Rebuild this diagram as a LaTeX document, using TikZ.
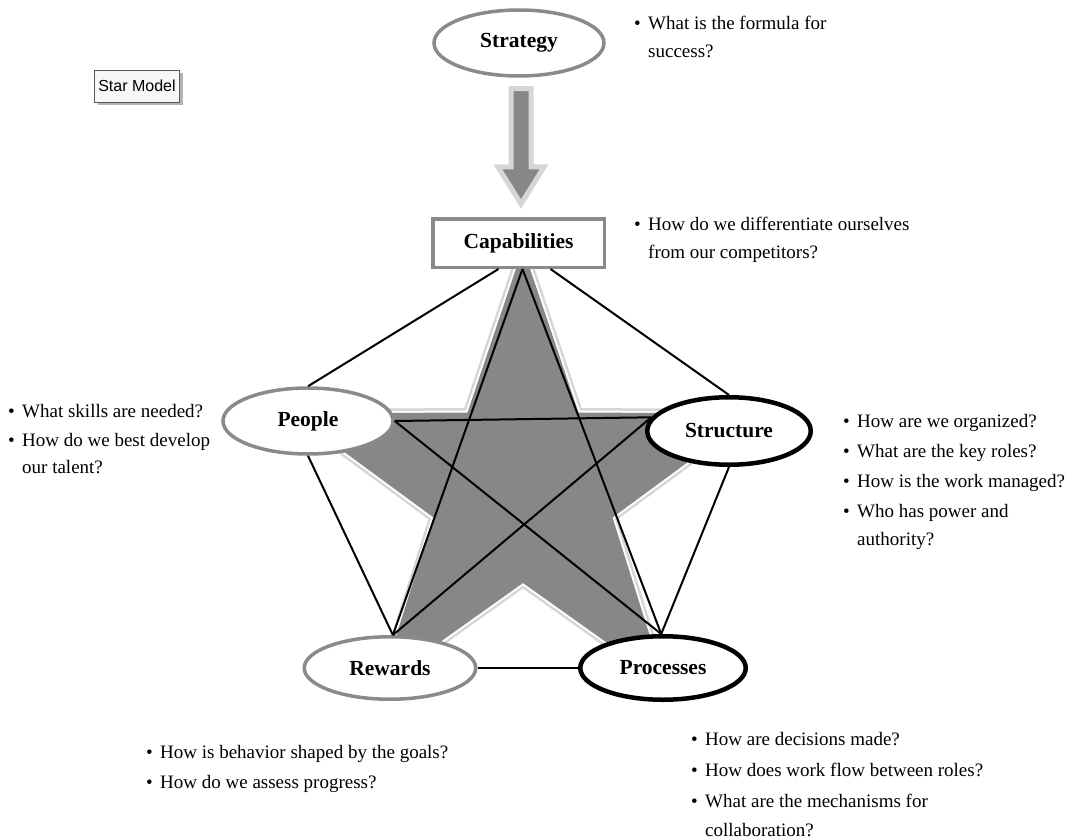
\documentclass[tikz,border=0pt]{standalone}
\usepackage{fontspec}
\setmainfont{Liberation Serif}
\newfontfamily\boxsans{Liberation Sans}
\usetikzlibrary{shapes.geometric,shadows,calc}

\definecolor{rimgray}{HTML}{8A8A8A}
\definecolor{starfill}{HTML}{878787}
\definecolor{bevel}{HTML}{D6D6D6}

% bullet mark followed by the item text
\newcommand{\bitem}{\makebox[14pt][l]{\textbullet}}

\begin{document}
\begin{tikzpicture}[x=1pt,y=-1pt,
  ring/.style={ellipse, fill=white, inner sep=0pt,
    font=\fontsize{21.5}{24}\selectfont\bfseries},
  softring/.style={ring, draw=rimgray, line width=3.5pt},
  boldring/.style={ring, draw=black, line width=4.5pt},
  link/.style={draw=black, line width=2pt},
  note/.style={anchor=base west, inner sep=0pt,
    font=\fontsize{19}{22}\selectfont},
  starpath/.style={insert path={
    (523,248) -- (467.5,412.5) -- (292,413.5) -- (433.5,517.5) --
    (381,684) -- (523,583) -- (665,684) -- (612.5,517.5) --
    (754,413.5) -- (578.5,412.5) -- cycle}},
]
\useasboundingbox (0,0) rectangle (1074,840);
\clip (0,0) rectangle (1074,840);

% shaded five-pointed star behind the model
\draw[bevel, line width=9pt, line join=miter, starpath];
\draw[white, line width=4pt, line join=miter, starpath];
\fill[starfill, starpath];

% the six elements
\node[softring, minimum width=170pt, minimum height=66pt] (Strategy) at (519,43) {Strategy};
\node[draw=rimgray, line width=3.5pt, fill=white, inner sep=0pt,
      minimum width=171.5pt, minimum height=48.5pt,
      font=\fontsize{21.5}{24}\selectfont\bfseries] (Capabilities) at (518.5,243) {Capabilities};
\node[softring, minimum width=170pt, minimum height=66pt] (People) at (308,421) {People};
\node[boldring, minimum width=163.5pt, minimum height=67.5pt] (Structure) at (729,431) {Structure};
\node[softring, minimum width=171.5pt, minimum height=62.5pt] (Rewards) at (390,668) {Rewards};
\node[boldring, minimum width=165.5pt, minimum height=63.5pt] (Processes) at (663,668) {Processes};

% block arrow from strategy down to capabilities
\coordinate (shafttop) at ($(Strategy.south)+(2,11)$);
\coordinate (arrowtip) at ($(Capabilities.north)+(2.5,-13)$);
\filldraw[fill=starfill, draw=bevel, line width=5pt, line join=miter]
  ($(shafttop)+(-10,0)$) -- ($(shafttop)+(10,0)$) --
  ($(arrowtip)+(10,-37)$) -- ($(arrowtip)+(23,-37)$) -- (arrowtip) --
  ($(arrowtip)+(-23,-37)$) -- ($(arrowtip)+(-10,-37)$) -- cycle;

% outer pentagon
\coordinate (capL) at ($(Capabilities.south)+(-20,0)$);
\coordinate (capR) at ($(Capabilities.south)+(32,0)$);
\coordinate (apex) at ($(Capabilities.south)+(4,0)$);
\draw[link] (capL) -- (People.north);
\draw[link] (capR) -- (Structure.north);
\draw[link] (People.south) -- (Rewards.85);
\draw[link] (Structure.south) -- (Processes.93);
\draw[link] (Rewards.east) -- (Processes.west);

% inner pentagram
\draw[link] (apex) -- (Rewards.85);
\draw[link] (apex) -- (Processes.93);
\draw[link] (People.east) -- (Structure.170);
\draw[link] (People.east) -- (Processes.93);
\draw[link] (Structure.170) -- (Rewards.85);

% caption box
\node[draw=black!65, line width=0.8pt, fill=black!3, inner sep=2pt,
      minimum width=85pt, minimum height=32pt,
      drop shadow={shadow xshift=3pt, shadow yshift=-3pt, fill=black!50, opacity=.6},
      font=\boxsans\fontsize{16}{18}\selectfont] (title) at (137,86) {Star Model};

% guiding questions
\node[note] (q1a) at (634,30) {\bitem What is the formula for};
\node[note] (q1b) at (648,58) {success?};

\node[note] (q2a) at (634,230) {\bitem How do we differentiate ourselves};
\node[note] (q2b) at (648,258) {from our competitors?};

\node[note] (q3a) at (8,417) {\bitem What skills are needed?};
\node[note] (q3b) at (8,446) {\bitem How do we best develop};
\node[note] (q3c) at (22,473) {our talent?};

\node[note] (q4a) at (843,427) {\bitem How are we organized?};
\node[note] (q4b) at (843,457) {\bitem What are the key roles?};
\node[note] (q4c) at (843,487) {\bitem How is the work managed?};
\node[note] (q4d) at (843,517) {\bitem Who has power and};
\node[note] (q4e) at (857,545) {authority?};

\node[note] (q5a) at (146,758) {\bitem How is behavior shaped by the goals?};
\node[note] (q5b) at (146,788) {\bitem How do we assess progress?};

\node[note] (q6a) at (691,745) {\bitem How are decisions made?};
\node[note] (q6b) at (691,776) {\bitem How does work flow between roles?};
\node[note] (q6c) at (691,807) {\bitem What are the mechanisms for};
\node[note] (q6d) at (705,836) {collaboration?};
\end{tikzpicture}
\end{document}
